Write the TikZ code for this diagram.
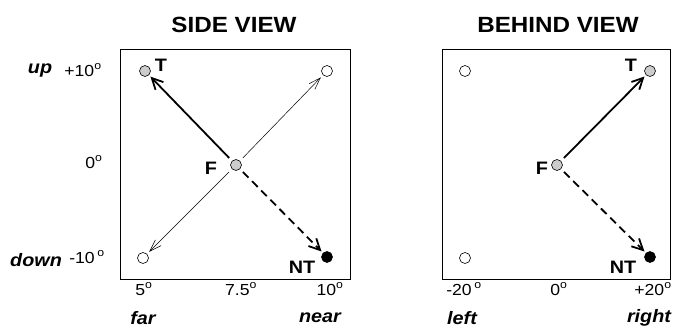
\documentclass[tikz,border=0pt]{standalone}
\usepackage{fontspec}
\setmainfont{Liberation Sans}[FakeStretch=1.1]
\usetikzlibrary{arrows.meta}
\tikzset{
  pt/.style={circle,draw,line width=0.6pt,minimum size=11pt,inner sep=0pt},
  gpt/.style={pt,fill=gray!40},
  opt/.style={pt,fill=white},
  bpt/.style={pt,fill=black},
  lbl/.style={font=\fontsize{18}{18}\selectfont\bfseries,inner sep=0pt},
  tick/.style={font=\fontsize{16}{16}\selectfont,inner sep=0pt},
  ax/.style={font=\fontsize{18}{18}\selectfont\bfseries\itshape,inner sep=0pt},
  ttl/.style={font=\fontsize{22}{22}\selectfont\bfseries,inner sep=0pt},
  frame/.style={draw,line width=0.9pt},
  thickarr/.style={line width=1.8pt,-{Straight Barb[length=11pt,width=11pt,line width=1.8pt]},shorten >=2pt,shorten <=4pt},
  thinarr/.style={line width=0.5pt,-{Straight Barb[length=12pt,width=8pt,line width=0.5pt]},shorten >=3pt,shorten <=4pt},
  dasharr/.style={thickarr,dash pattern=on 8pt off 5pt}
}
\newcommand{\dg}{\textsuperscript{o}}
\begin{document}
\begin{tikzpicture}[x=1pt,y=-1pt]
\useasboundingbox (0,0) rectangle (673,335);
% titles
\node[ttl] (t1) at (234,25) {SIDE VIEW};
\node[ttl] (t2) at (558,25) {BEHIND VIEW};
% frames
\draw[frame] (120,49) rectangle (350,279);
\draw[frame] (442,49) rectangle (670,279);
% side view points
\node[gpt] (sT) at (145,71) {};
\node[opt] (sU) at (327,71) {};
\node[gpt] (sF) at (236,165) {};
\node[opt] (sD) at (143,258) {};
\node[bpt] (sN) at (327,257) {};
\node[lbl] (sTl) at (161,65) {T};
\node[lbl] (sFl) at (211,168) {F};
\node[lbl] (sNl) at (302,267) {NT};
\draw[thickarr] (sF) -- (sT);
\draw[thinarr] (sF) -- (sU);
\draw[thinarr] (sF) -- (sD);
\draw[dasharr] (sF) -- (sN);
% side axes
\node[ax] (up) at (40,71) {up};
\node[tick] (p10) at (83,70) {+10\dg};
\node[tick] (z0) at (94,162) {0\dg};
\node[ax] (down) at (36,260) {down};
\node[tick] (m10) at (87,257) {-10\,\dg};
\node[tick] (x5) at (144,289) {5\dg};
\node[tick] (x75) at (241,289) {7.5\dg};
\node[tick] (x10) at (330,289) {10\dg};
\node[ax] (far) at (143,318) {far};
\node[ax] (near) at (320,318) {near};
% behind view points
\node[opt] (bU) at (465,71) {};
\node[gpt] (bT) at (650,71) {};
\node[gpt] (bF) at (557,165) {};
\node[opt] (bD) at (465,258) {};
\node[bpt] (bN) at (650,257) {};
\node[lbl] (bTl) at (631,65) {T};
\node[lbl] (bFl) at (542,168) {F};
\node[lbl] (bNl) at (623,267) {NT};
\draw[thickarr] (bF) -- (bT);
\draw[dasharr] (bF) -- (bN);
\node[tick] (m20) at (464,289) {-20\,\dg};
\node[tick] (b0) at (559,289) {0\dg};
\node[tick] (p20) at (653,289) {+20\dg};
\node[ax] (left) at (462,318) {left};
\node[ax] (right) at (649,318) {right};
\end{tikzpicture}
\end{document}
